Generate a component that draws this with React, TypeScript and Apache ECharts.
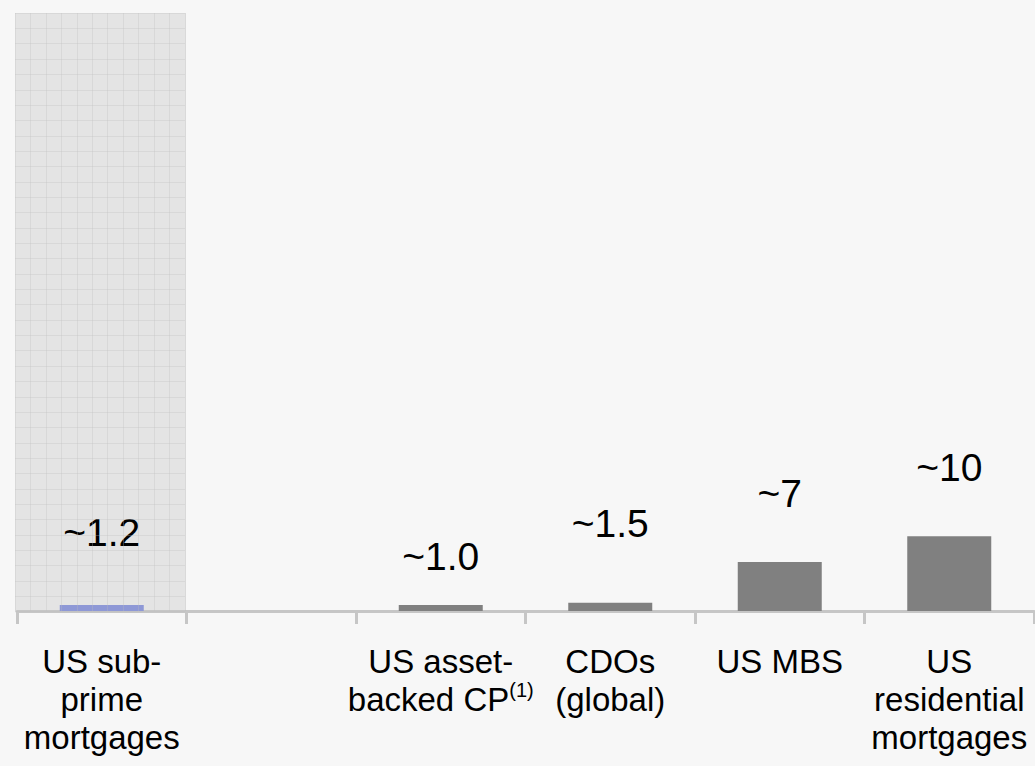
import React, { useEffect, useRef } from "react";
import * as echarts from "echarts";

const categories = [
  "{a|US sub-}\n{a|prime}\n{a|mortgages}",
  "",
  "{a|US asset-}\n{a|backed CP}{s|(1)}",
  "{a|CDOs}\n{a|(global)}",
  "{a|US MBS}",
  "{a|US}\n{a|residential}\n{a|mortgages}",
];
const values: (number | null)[] = [0.8, null, 0.8, 1.1, 6.55, 10];
const valueLabels = ["~1.2", "", "~1.0", "~1.5", "~7", "~10"];
const labelGaps = [54, 0, 30, 60, 50, 50];
const barColors = ["#8e98d6", "#808080", "#808080", "#808080", "#808080", "#808080"];

export default function App() {
  const ref = useRef<HTMLDivElement>(null);
  useEffect(() => {
    if (!ref.current) return;
    const chart = echarts.init(ref.current, undefined, { renderer: "svg" });
    const font = "'Liberation Sans', Arial, sans-serif";
    chart.setOption({
      animation: false,
      backgroundColor: "#f7f7f7",
      textStyle: { fontFamily: font },
      grid: [
        { left: 17, right: 1, top: 13, bottom: 155, containLabel: false },
        {
          left: 15,
          top: 13,
          width: 170,
          height: 598,
          show: true,
          backgroundColor: "#e4e4e4",
          borderWidth: 0,
        },
      ],
      xAxis: [
        {
          type: "category",
          gridIndex: 0,
          data: categories,
          axisLine: { lineStyle: { color: "#c6c6c6", width: 3 } },
          axisTick: { show: true, length: 13, lineStyle: { color: "#c6c6c6", width: 3 } },
          axisLabel: {
            interval: 0,
            margin: 31,
            color: "#000",
            fontFamily: font,
            rich: {
              a: { fontSize: 33, lineHeight: 38, color: "#000", fontFamily: font },
              s: { fontSize: 20, lineHeight: 8, verticalAlign: "top", color: "#000", fontFamily: font },
            },
          },
          z: 1,
        },
        {
          type: "value",
          gridIndex: 1,
          min: 0,
          max: 170,
          interval: 15.45,
          axisLine: { show: false },
          axisTick: { show: false },
          axisLabel: { show: false },
          splitLine: { show: true, lineStyle: { color: "rgba(190,190,190,0.3)", width: 1 } },
          z: 10,
        },
      ],
      yAxis: [
        { type: "value", gridIndex: 0, min: 0, max: 80, show: false, splitLine: { show: false } },
        {
          type: "value",
          gridIndex: 1,
          min: 0,
          max: 598,
          interval: 15.35,
          inverse: true,
          axisLine: { show: false },
          axisTick: { show: false },
          axisLabel: { show: false },
          splitLine: { show: true, lineStyle: { color: "rgba(190,190,190,0.3)", width: 1 } },
          z: 10,
        },
      ],
      series: [
        {
          type: "bar",
          xAxisIndex: 0,
          yAxisIndex: 0,
          barWidth: 84,
          data: values.map((v, i) => ({
            value: v,
            itemStyle: { color: barColors[i] },
            label: {
              show: v != null,
              position: "top",
              distance: labelGaps[i],
              formatter: valueLabels[i],
              fontSize: 39,
              lineHeight: 38,
              color: "#000",
              fontFamily: font,
            },
          })),
        },
      ],
    });
    return () => chart.dispose();
  }, []);
  return (
    <div
      ref={ref}
      style={{ position: "absolute", left: 0, top: 0, width: 1035, height: 766 }}
    />
  );
}
